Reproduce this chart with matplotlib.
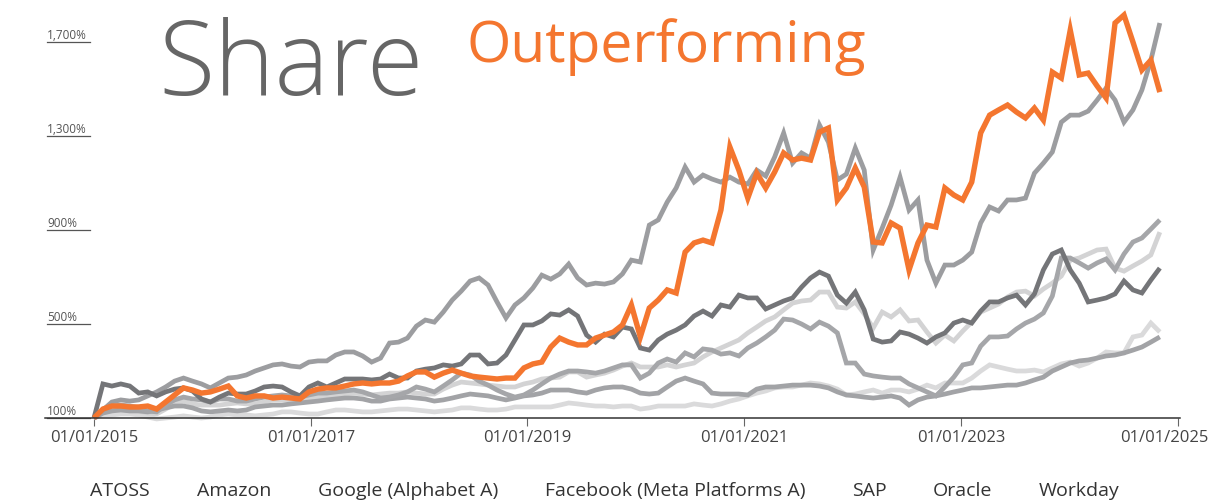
import numpy as np
import pandas as pd
import matplotlib
matplotlib.use("Agg")
import matplotlib.pyplot as plt
import matplotlib.dates as mdates
import matplotlib.transforms as mtransforms

plt.rcParams['font.family'] = ['Open Sans', 'DejaVu Sans']

# roughly monthly samples, Jan 2015 - Nov 2024, share price indexed to 100%
dates = pd.date_range('2015-01-01', '2024-11-01', periods=120)

atoss = [100, 138, 151, 151, 147, 147, 151, 138, 168, 198,
         228, 219, 206, 211, 223, 236, 194, 185, 194, 194,
         185, 189, 185, 181, 211, 223, 228, 228, 236, 245,
         249, 245, 249, 249, 257, 279, 296, 296, 274, 291,
         304, 291, 279, 274, 270, 266, 270, 270, 313, 330,
         338, 402, 440, 423, 411, 411, 440, 453, 466, 496,
         581, 445, 568, 602, 645, 632, 806, 845, 857, 845,
         985, 1253, 1155, 1036, 1142, 1079, 1147, 1228, 1198, 1206,
         1198, 1317, 1334, 1028, 1079, 1164, 1083, 849, 845, 930,
         908, 730, 845, 921, 913, 1079, 1049, 1028, 1104, 1313,
         1389, 1411, 1432, 1402, 1377, 1419, 1368, 1572, 1547, 1751,
         1560, 1568, 1513, 1462, 1781, 1815, 1700, 1581, 1623, 1487]

amazon = [100, 134, 168, 177, 172, 177, 194, 211, 232, 257,
          270, 257, 245, 228, 249, 270, 274, 283, 300, 313,
          326, 330, 321, 317, 338, 343, 343, 368, 381, 381,
          364, 338, 355, 419, 423, 440, 491, 517, 508, 551,
          602, 640, 683, 696, 666, 594, 526, 581, 611, 653,
          708, 691, 713, 755, 696, 666, 674, 670, 679, 713,
          772, 764, 921, 943, 1019, 1079, 1168, 1104, 1134, 1117,
          1104, 1125, 1104, 1096, 1155, 1130, 1211, 1313, 1185, 1228,
          1206, 1347, 1274, 1113, 1138, 1249, 1155, 815, 908, 1006,
          1125, 985, 1028, 772, 674, 751, 751, 772, 806, 930,
          998, 981, 1028, 1028, 1036, 1142, 1185, 1232, 1359, 1389,
          1389, 1406, 1453, 1504, 1453, 1359, 1411, 1496, 1623, 1781]

google = [100, 126, 138, 143, 138, 130, 121, 117, 138, 160,
          172, 160, 155, 155, 155, 160, 164, 160, 160, 168,
          177, 177, 177, 177, 185, 189, 194, 198, 202, 206,
          202, 198, 202, 206, 206, 211, 206, 202, 202, 223,
          240, 253, 249, 245, 240, 236, 232, 232, 245, 253,
          266, 270, 274, 296, 296, 274, 283, 291, 304, 321,
          334, 317, 317, 317, 326, 317, 326, 334, 360, 381,
          398, 415, 432, 462, 487, 513, 530, 560, 589, 598,
          602, 636, 636, 572, 568, 594, 543, 483, 551, 530,
          560, 513, 517, 466, 419, 453, 428, 470, 508, 551,
          568, 585, 615, 636, 640, 619, 649, 674, 704, 772,
          781, 798, 815, 819, 738, 725, 747, 768, 794, 891]

facebook = [100, 138, 151, 155, 151, 143, 130, 126, 155, 177,
            189, 181, 177, 168, 181, 181, 172, 172, 181, 189,
            194, 198, 194, 189, 198, 206, 206, 211, 215, 219,
            211, 198, 185, 189, 198, 211, 232, 223, 211, 236,
            262, 291, 283, 257, 240, 219, 202, 189, 198, 219,
            245, 270, 287, 300, 300, 296, 291, 300, 313, 326,
            326, 270, 291, 334, 351, 338, 377, 360, 394, 389,
            372, 377, 364, 398, 419, 445, 474, 521, 517, 500,
            479, 508, 491, 462, 334, 334, 287, 279, 274, 270,
            270, 245, 228, 211, 194, 232, 274, 326, 334, 406,
            445, 445, 449, 479, 504, 521, 547, 619, 781, 781,
            760, 738, 760, 777, 730, 798, 849, 866, 904, 943]

sap = [100, 121, 130, 134, 130, 130, 126, 134, 143, 151,
       151, 143, 130, 126, 130, 134, 130, 134, 147, 151,
       155, 155, 160, 164, 168, 172, 177, 181, 185, 185,
       181, 172, 172, 181, 185, 189, 185, 181, 172, 177,
       185, 194, 202, 198, 194, 185, 177, 185, 194, 198,
       206, 219, 219, 219, 211, 206, 219, 228, 232, 232,
       223, 206, 202, 206, 232, 257, 270, 257, 245, 206,
       202, 202, 202, 198, 223, 232, 232, 236, 240, 240,
       240, 236, 228, 211, 198, 194, 189, 185, 189, 194,
       185, 155, 177, 189, 194, 202, 211, 219, 228, 228,
       232, 236, 240, 240, 249, 262, 274, 300, 317, 334,
       343, 347, 355, 364, 368, 377, 389, 402, 423, 445]

oracle = [100, 113, 113, 117, 117, 113, 104, 96, 100, 104,
          109, 104, 100, 104, 113, 117, 113, 113, 109, 113,
          117, 126, 126, 121, 117, 117, 126, 134, 134, 130,
          126, 126, 130, 134, 138, 138, 134, 130, 126, 130,
          134, 143, 143, 138, 134, 134, 138, 147, 147, 147,
          147, 147, 155, 164, 160, 155, 151, 151, 147, 151,
          151, 138, 143, 151, 151, 151, 151, 160, 155, 151,
          160, 172, 181, 194, 206, 215, 228, 232, 232, 240,
          249, 245, 236, 223, 198, 202, 211, 219, 206, 219,
          219, 211, 223, 240, 228, 249, 249, 249, 270, 300,
          326, 317, 308, 300, 300, 304, 296, 313, 330, 338,
          321, 334, 355, 381, 377, 377, 445, 453, 504, 466]

workday = [100, 245, 236, 245, 236, 206, 211, 194, 211, 223,
           228, 215, 181, 168, 189, 206, 202, 202, 215, 232,
           236, 232, 211, 194, 232, 249, 232, 249, 266, 266,
           266, 262, 266, 287, 270, 270, 300, 308, 313, 326,
           321, 330, 368, 368, 330, 334, 368, 432, 496, 496,
           513, 543, 538, 560, 534, 453, 423, 457, 445, 487,
           479, 398, 389, 432, 457, 474, 496, 534, 555, 534,
           581, 572, 623, 611, 611, 564, 581, 598, 611, 657,
           696, 721, 704, 623, 589, 636, 560, 436, 423, 428,
           466, 457, 440, 419, 445, 462, 504, 517, 504, 555,
           594, 594, 611, 623, 581, 628, 730, 798, 815, 730,
           674, 594, 602, 611, 628, 683, 645, 632, 687, 738]

names = ['ATOSS', 'Amazon', 'Google (Alphabet A)', 'Facebook (Meta Platforms A)',
         'SAP', 'Oracle', 'Workday']
y_ticks = [100, 500, 900, 1300, 1700]
x_ticks = ['2015-01-01', '2017-01-01', '2019-01-01', '2021-01-01',
           '2023-01-01', '2025-01-01']

fig = plt.figure(figsize=(12.14, 5.04), dpi=100)
ax = fig.add_axes([45 / 1214, 86 / 504, 1135 / 1214, 418 / 504])

# draw order: light greys at the back, ATOSS on top
series = [
    (oracle, 'Oracle', '#dadadb', 3.4),
    (google, 'Google (Alphabet A)', '#d3d3d4', 3.4),
    (sap, 'SAP', '#a2a3a6', 3.4),
    (facebook, 'Facebook (Meta Platforms A)', '#a5a6a9', 3.4),
    (amazon, 'Amazon', '#9c9da0', 3.4),
    (workday, 'Workday', '#747578', 3.4),
    (atoss, 'ATOSS', '#f4762f', 3.9),
]
lines = {}
for vals, name, col, lw in series:
    ln, = ax.plot(dates, vals, color=col, lw=lw, solid_joinstyle='miter',
                  solid_capstyle='butt', clip_on=False, label=name)
    lines[name] = ln

ax.set_xlim(pd.Timestamp('2014-07-20'), pd.Timestamp('2025-01-08'))
ax.set_ylim(100, 1879)

for s in ['top', 'right', 'left']:
    ax.spines[s].set_visible(False)
ax.spines['bottom'].set_color('#333333')
ax.spines['bottom'].set_linewidth(1.1)

ax.set_xticks(pd.to_datetime(x_ticks))
ax.xaxis.set_major_formatter(mdates.DateFormatter('%d/%m/%Y'))
ax.tick_params(axis='x', length=6, width=0.8, color='#666666', pad=3,
               labelsize=12, labelcolor='#444444')
ax.set_yticks([])

# last date label is pulled left so it stays inside the figure
last = ax.get_xticklabels()[-1]
last.set_transform(last.get_transform() +
                   mtransforms.ScaledTranslation(-14 / 100, 0, fig.dpi_scale_trans))

# small underlined value labels on the left
trans = mtransforms.blended_transform_factory(ax.transAxes, ax.transData)
for v in y_ticks:
    ax.plot([0.0018, 0.0396], [v, v], transform=trans, color='#555555',
            lw=0.9, clip_on=False)
    ax.annotate(f'{v:,}%', xy=(0.0018, v), xycoords=trans,
                xytext=(0, 2), textcoords='offset points',
                ha='left', va='baseline', fontsize=8.5, color='#555555')

fig.text(158 / 1214, 1 - 95 / 504, 'Share', fontsize=74, color='#666666',
         fontweight='light', ha='left', va='baseline')
fig.text(466 / 1214, 1 - 62 / 504, 'Outperforming', fontsize=41,
         color='#f4762f', ha='left', va='baseline')

leg = fig.legend([lines[n] for n in names], names, loc='center',
                 bbox_to_anchor=(0.4985, 0.026), ncol=7, frameon=False,
                 handlelength=0, handletextpad=0, columnspacing=2.4,
                 fontsize=14, labelcolor='#333333')
for h in leg.legend_handles:
    h.set_visible(False)

fig.savefig('out.png', dpi=100)
